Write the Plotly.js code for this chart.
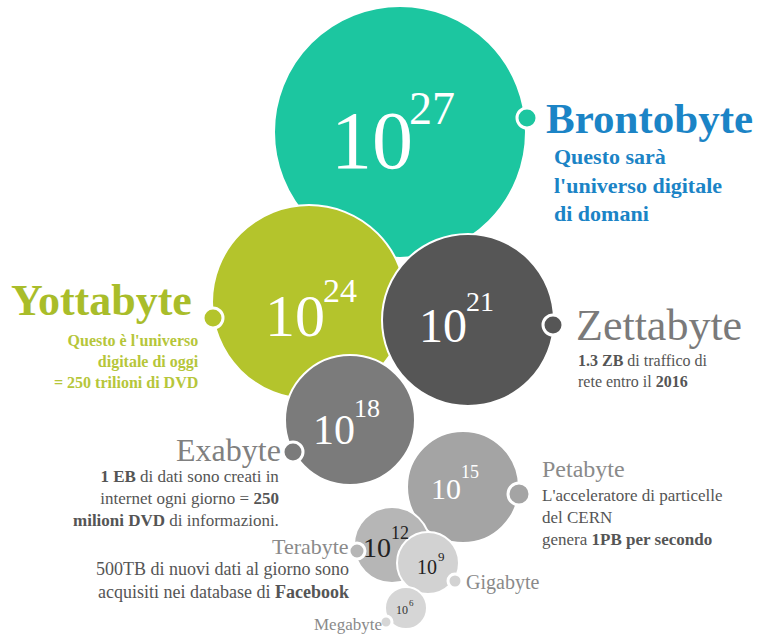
<!DOCTYPE html>
<html>
<head>
<meta charset="utf-8">
<script src="https://cdn.plot.ly/plotly-3.0.1.min.js"></script>
<style>html,body{margin:0;padding:0;background:#fff;}#chart{width:762px;height:634px;}</style>
</head>
<body>
<div id="chart"></div>
<script>
// ---- data ----
const units = ['Brontobyte','Yottabyte','Zettabyte','Exabyte','Petabyte','Terabyte','Gigabyte','Megabyte'];
const exponents = [27,24,21,18,15,12,9,6];
const descriptions = [
  "Questo sarà<br>l'universo digitale<br>di domani",
  "Questo è l'universo<br>digitale di oggi<br>= 250 trilioni di DVD",
  "<b>1.3 ZB</b> di traffico di<br>rete entro il <b>2016</b>",
  "<b>1 EB</b> di dati sono creati in<br>internet ogni giorno = <b>250</b><br><b>milioni DVD</b> di informazioni.",
  "L'acceleratore di particelle<br>del CERN<br>genera <b>1PB per secondo</b>",
  "500TB di nuovi dati al giorno sono<br>acquisiti nei database di <b>Facebook</b>",
  "",
  ""
];

// ---- layout (positions / sizes / styles) ----
const bubbleX = [400,309,468,350,463,392,428,406];
const bubbleY = [132,302,320,420,487,545,563,608];
const bubbleD = [252,194,172,130,112,76,62,42];
const bubbleColor = ['#1cc6a0','#b4c42c','#565656','#7b7b7b','#a4a4a4','#b6b6b6','#d2d2d2','#d6d6d6'];
const dotX = [527,213,553,293,519,357,455,386];
const dotY = [118,318,325,452,494,551,581,622];
const dotD = [20,20,20,20,22,16,14,12];

// base "10" position & size, exponent position & size
const baseX = [414,326,468,356,462,392,438,409];
const baseY = [140,316,325,430,488,547,567,610];
const baseSize = [82,60,48,42,30,28,20,12];
const expX = [408,322,465,353,460,390,437,408];
const expY = [108,290,301,408,472,533,556,603];
const expSize = [46,34,28,26,18,18,13,9];
const numColor = ['#fff','#fff','#fff','#fff','#fff','#222','#222','#333'];

// labels
const labX = [545,10,575,282,541,350,465,383];
const labY = [118,300,325,450,469,546,582,624];
const labSize = [43,44,44,32,24,22,20,17];
const labAnchor = ['left','left','left','right','left','right','left','right'];
const labColor = ['#1b84c6','#a9bd2a','#7a7a7a','#808080','#8a8a8a','#8a8a8a','#8a8a8a','#8a8a8a'];
const labBold = [true,true,false,false,false,false,false,false];
const descX = [553,200,577,280,541,350,0,0];
const descTop = [143,331,351,466,485,558,0,0];
const descAnchor = ['left','right','left','right','left','right','left','left'];
const descSize = [22,16,16,17,17,18,12,12];
const descColor = ['#1b84c6','#b6c63a','#555555','#555555','#555555','#555555','#555','#555'];
const descBold = [true,true,false,false,false,false,false,false];

const serif = 'Liberation Serif, Times New Roman, serif';

const traces = [
  {
    x: bubbleX, y: bubbleY, mode: 'markers', type: 'scatter', hoverinfo: 'skip',
    marker: {size: bubbleD, sizemode: 'diameter', color: bubbleColor, opacity: 1,
             line: {color: '#ffffff', width: 2}}
  },
  {
    x: dotX, y: dotY, mode: 'markers', type: 'scatter', hoverinfo: 'skip',
    marker: {size: dotD, color: bubbleColor, opacity: 1, line: {color: '#ffffff', width: 3}}
  }
];

const annotations = [];
for (let i = 0; i < units.length; i++) {
  annotations.push({x: baseX[i], y: baseY[i], xref: 'x', yref: 'y', text: '10', showarrow: false,
    xanchor: 'right', yanchor: 'middle', borderpad: 0, font: {family: serif, size: baseSize[i], color: numColor[i]}});
  annotations.push({x: expX[i], y: expY[i], xref: 'x', yref: 'y', text: String(exponents[i]), showarrow: false,
    xanchor: 'left', yanchor: 'middle', borderpad: 0, font: {family: serif, size: expSize[i], color: numColor[i]}});
  annotations.push({x: labX[i], y: labY[i], xref: 'x', yref: 'y',
    text: labBold[i] ? '<b>' + units[i] + '</b>' : units[i], showarrow: false, borderpad: 0,
    xanchor: labAnchor[i], yanchor: 'middle', font: {family: serif, size: labSize[i], color: labColor[i]}});
  if (descriptions[i]) {
    annotations.push({x: descX[i], y: descTop[i], xref: 'x', yref: 'y',
      text: descBold[i] ? '<b>' + descriptions[i].split('<br>').join('</b><br><b>') + '</b>' : descriptions[i],
      showarrow: false, align: descAnchor[i], xanchor: descAnchor[i], yanchor: 'top', borderpad: 0,
      font: {family: serif, size: descSize[i], color: descColor[i]}});
  }
}

const layout = {
  width: 762, height: 634,
  margin: {l: 0, r: 0, t: 0, b: 0},
  paper_bgcolor: '#ffffff', plot_bgcolor: '#ffffff',
  showlegend: false,
  xaxis: {range: [0, 762], visible: false, fixedrange: true},
  yaxis: {range: [634, 0], visible: false, fixedrange: true},
  annotations: annotations
};

Plotly.newPlot('chart', traces, layout, {displayModeBar: false, staticPlot: true});
</script>
</body>
</html>
